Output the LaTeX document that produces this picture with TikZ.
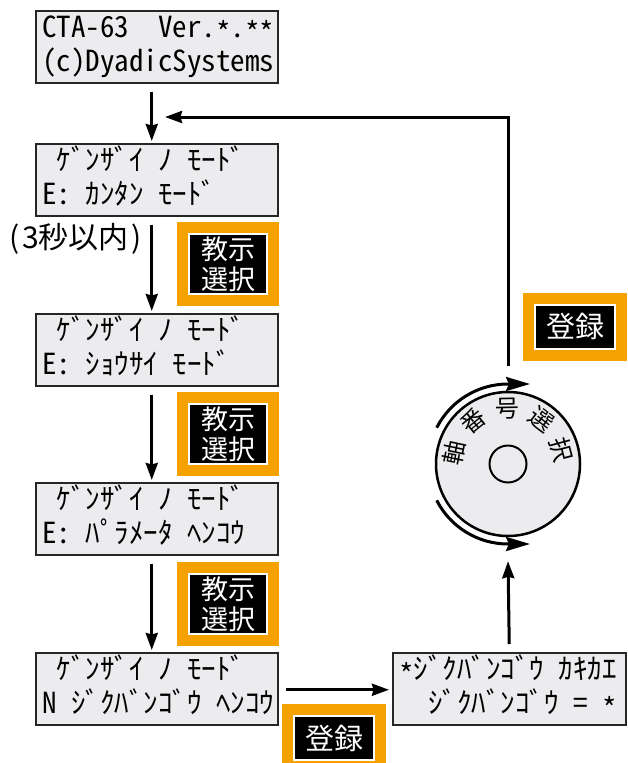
\documentclass[tikz,border=0pt]{standalone}
\usepackage{fontspec}
\newfontfamily\jp{Noto Sans CJK JP}
\newfontfamily\lcd[RawFeature=+hwid]{Noto Sans CJK JP}
\usetikzlibrary{arrows.meta,calc}
\definecolor{lcdfill}{RGB}{236,236,239}
\definecolor{keyorange}{RGB}{245,162,0}
\newcommand\hs{\hspace*{0.5em}}
\newcommand\lcdstar{\raisebox{-0.22em}{*}}
\begin{document}
\begin{tikzpicture}[x=1pt,y=-1pt,
  lcdbox/.style={draw=black!85, line width=1.5pt, fill=lcdfill, minimum width=242pt, minimum height=72pt, inner sep=0pt, anchor=north west},
  lcdtxt/.style={font=\lcd\fontsize{29}{29}\selectfont, inner sep=0pt, anchor=base west},
  arr/.style={line width=3pt, -{Stealth[length=17pt,width=12pt,inset=1.5pt]}},
  disarr/.style={line width=3pt, -{Stealth[length=24pt,width=14pt,inset=3pt]}},
  keybtn/.style={fill=black, draw=white, line width=2pt, text=white, align=center, inner sep=0pt,
    font=\jp\fontsize{27}{30}\selectfont, preaction={draw=keyorange, line width=24pt}},
  diskchar/.style={font=\jp\fontsize{24}{24}\selectfont, inner sep=0pt},
]
\useasboundingbox (0,0) rectangle (627,763);

% LCD boxes
\node[lcdbox] (b1) at (35,10) {};
\node[lcdbox] (b2) at (35,143) {};
\node[lcdbox] (b3) at (35,313) {};
\node[lcdbox] (b4) at (35,482) {};
\node[lcdbox] (b5) at (35,652) {};
\node[lcdbox, minimum width=233pt] (b6) at (392,652) {};

\node[lcdtxt] (b1a) at ($(b1.north west)+(7,27)$) {CTA-63\hs\hs Ver.\lcdstar.\lcdstar\lcdstar};
\node[lcdtxt] (b1b) at ($(b1.north west)+(7,61)$) {(c)DyadicSystems};
\node[lcdtxt] (b2a) at ($(b2.north west)+(7,27)$) {\hs ｹﾞﾝｻﾞｲ\hs ﾉ\hs ﾓｰﾄﾞ};
\node[lcdtxt] (b2b) at ($(b2.north west)+(7,61)$) {E:\hs ｶﾝﾀﾝ\hs ﾓｰﾄﾞ};
\node[lcdtxt] (b3a) at ($(b3.north west)+(7,27)$) {\hs ｹﾞﾝｻﾞｲ\hs ﾉ\hs ﾓｰﾄﾞ};
\node[lcdtxt] (b3b) at ($(b3.north west)+(7,61)$) {E:\hs ｼｮｳｻｲ\hs ﾓｰﾄﾞ};
\node[lcdtxt] (b4a) at ($(b4.north west)+(7,27)$) {\hs ｹﾞﾝｻﾞｲ\hs ﾉ\hs ﾓｰﾄﾞ};
\node[lcdtxt] (b4b) at ($(b4.north west)+(7,61)$) {E:\hs ﾊﾟﾗﾒｰﾀ\hs ﾍﾝｺｳ};
\node[lcdtxt] (b5a) at ($(b5.north west)+(7,27)$) {\hs ｹﾞﾝｻﾞｲ\hs ﾉ\hs ﾓｰﾄﾞ};
\node[lcdtxt] (b5b) at ($(b5.north west)+(7,61)$) {N\hs ｼﾞｸﾊﾞﾝｺﾞｳ\hs ﾍﾝｺｳ};
\node[lcdtxt] (b6a) at ($(b6.north west)+(7,27)$) {\lcdstar ｼﾞｸﾊﾞﾝｺﾞｳ\hs ｶｷｶｴ};
\node[lcdtxt] (b6b) at ($(b6.north west)+(7,61)$) {\hs\hs ｼﾞｸﾊﾞﾝｺﾞｳ\hs =\hs \lcdstar};

% key buttons
\node[keybtn, minimum width=78pt, minimum height=60pt] (k1) at (228,264) {教示\\選択};
\node[keybtn, minimum width=78pt, minimum height=60pt] (k2) at (228,434) {教示\\選択};
\node[keybtn, minimum width=78pt, minimum height=60pt] (k3) at (228,604) {教示\\選択};
\node[keybtn, font=\jp\fontsize{29}{30}\selectfont, minimum width=80pt, minimum height=44pt] (k4) at (575,326.5) {登録};
\node[keybtn, font=\jp\fontsize{29}{30}\selectfont, minimum width=80pt, minimum height=44pt] (k5) at (334,738) {登録};

% label
\node[font=\jp\fontsize{30}{30}\selectfont, inner sep=0pt, anchor=base west] (lbl) at (9,248) {(\kern3pt 3秒以内\kern3pt)};

% disk
\node[circle, draw, line width=2.5pt, fill=lcdfill, minimum size=144pt, inner sep=0pt] (disk) at (508,464) {};
\node[circle, draw, line width=2pt, minimum size=37pt, inner sep=0pt] (hub) at (disk.center) {};
\foreach \ch/\a [count=\i] in {軸/168, 番/129, 号/91, 選/53, 択/15}
  \node[diskchar, rotate=\a-90] (c\i) at ($(disk.center)+(-\a:55)$) {\ch};
\draw[disarr] ($(disk.center)+(-153:80)$) arc[start angle=-153, end angle=-90, radius=80] -- ++(22,0);
\draw[disarr] ($(disk.center)+(153:80)$) arc[start angle=153, end angle=90, radius=80] -- ++(22,0);

% connectors
\draw[arr] ([xshift=-5pt,yshift=-8pt]b1.south) -- ([xshift=-5pt,yshift=2pt]b2.north);
\draw[arr] ([xshift=-5pt,yshift=-8pt]b2.south) -- ([xshift=-5pt,yshift=2pt]b3.north);
\draw[arr] ([xshift=-5pt,yshift=-8pt]b3.south) -- ([xshift=-5pt,yshift=2pt]b4.north);
\draw[arr] ([xshift=-5pt,yshift=-8pt]b4.south) -- ([xshift=-5pt,yshift=2pt]b5.north);
\draw[arr] ([xshift=7pt,yshift=-1pt]b5.east) -- ([xshift=-3pt,yshift=-1pt]b6.west);
\draw[arr] ([yshift=8pt]b6.north) -- ([yshift=-24pt]disk.south);
\coordinate (fbend) at (165,117);
\draw[arr] ([yshift=25pt]disk.north) |- (fbend);
\end{tikzpicture}
\end{document}
